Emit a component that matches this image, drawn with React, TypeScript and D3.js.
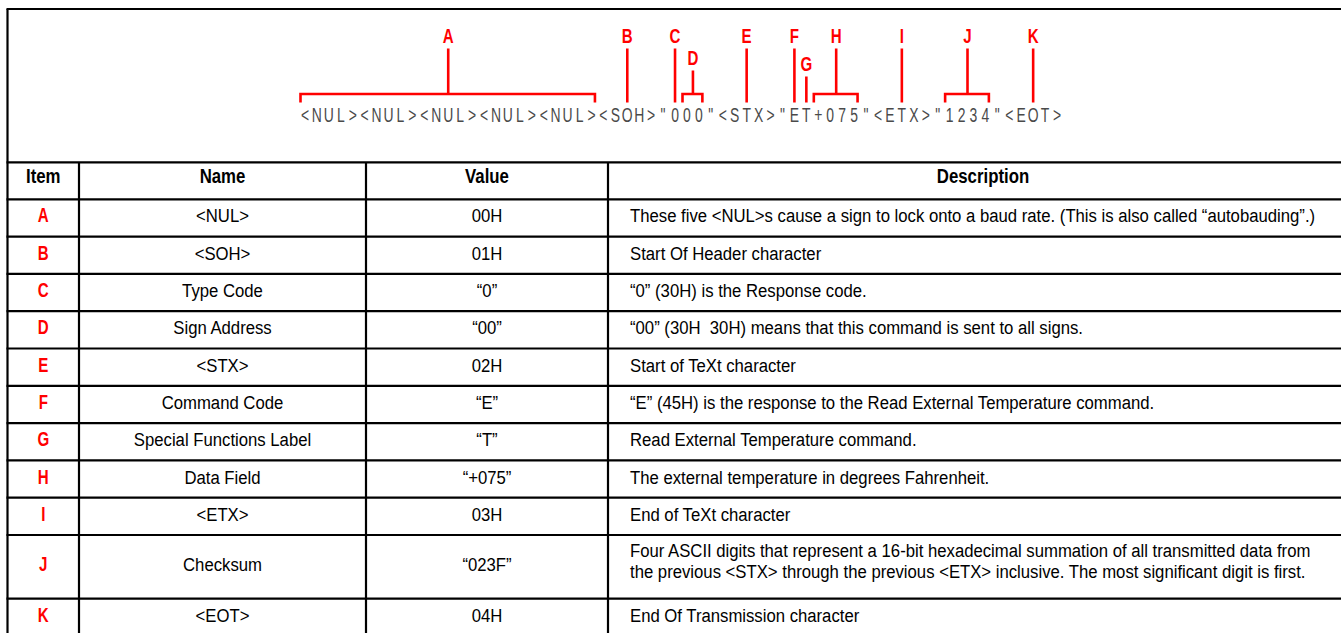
import React, { useEffect, useRef } from 'react';
import * as d3 from 'd3';

// packet shown in the diagram, one glyph per character cell
const packet = '<NUL><NUL><NUL><NUL><NUL><SOH>"000"<STX>"ET+075"<ETX>"1234"<EOT>';

// callouts: which character cells each letter points at
const markerLabels = ['A', 'B', 'C', 'D', 'E', 'F', 'G', 'H', 'I', 'J', 'K'];
const markerStart = [0, 27, 31, 32, 37, 41, 42, 43, 50, 54, 61];
const markerEnd = [25, 28, 32, 34, 38, 42, 43, 47, 51, 58, 62];
const markerTier = [0, 0, 0, 1, 0, 0, 2, 0, 0, 0, 0];

const columns = ['Item', 'Name', 'Value', 'Description'];
const items = ['A', 'B', 'C', 'D', 'E', 'F', 'G', 'H', 'I', 'J', 'K'];
const names = [
  '<NUL>', '<SOH>', 'Type Code', 'Sign Address', '<STX>', 'Command Code',
  'Special Functions Label', 'Data Field', '<ETX>', 'Checksum', '<EOT>',
];
const values = ['00H', '01H', '\u201C0\u201D', '\u201C00\u201D', '02H', '\u201CE\u201D', '\u201CT\u201D', '\u201C+075\u201D', '03H', '\u201C023F\u201D', '04H'];
const descriptions: string[][] = [
  ['These five <NUL>s cause a sign to lock onto a baud rate. (This is also called \u201Cautobauding\u201D.)'],
  ['Start Of Header character'],
  ['\u201C0\u201D (30H) is the Response code.'],
  ['\u201C00\u201D (30H\u00A0 30H) means that this command is sent to all signs.'],
  ['Start of TeXt character'],
  ['\u201CE\u201D (45H) is the response to the Read External Temperature command.'],
  ['Read External Temperature command.'],
  ['The external temperature in degrees Fahrenheit.'],
  ['End of TeXt character'],
  [
    'Four ASCII digits that represent a 16-bit hexadecimal summation of all transmitted data from',
    'the previous <STX> through the previous <ETX> inclusive. The most significant digit is first.',
  ],
  ['End Of Transmission character'],
];

const W = 1341;
const H = 633;
const RED = '#ff0000';
const SANS = '"Liberation Sans", Arial, sans-serif';
const NARROW = 0.88; // horizontal squeeze to imitate a condensed face

const App: React.FC = () => {
  const svgRef = useRef<SVGSVGElement>(null);

  useEffect(() => {
    if (!svgRef.current) return;
    const svg = d3.select(svgRef.current);
    svg.selectAll('*').remove();

    const left = 7.5;
    const right = 1358;
    const top = 9;

    const squeezed = (
      g: d3.Selection<any, unknown, null, undefined>,
      x: number, y: number, str: string,
      o: { size: number; bold?: boolean; fill?: string; anchor?: string; sx?: number },
    ) => g.append('text')
      .attr('transform', `translate(${x},${y}) scale(${o.sx ?? NARROW},1)`)
      .attr('text-anchor', o.anchor ?? 'middle')
      .style('font-family', SANS)
      .style('font-size', `${o.size}px`)
      .style('font-weight', o.bold ? '700' : '400')
      .style('fill', o.fill ?? '#000')
      .style('white-space', 'pre')
      .text(str);

    // ---- diagram ----
    const charX = d3.scaleLinear().domain([0, packet.length]).range([299, 1063]);
    const diag = svg.append('g');
    const glyphSx = 0.68;

    diag.append('text')
      .attr('transform', `translate(0,122) scale(${glyphSx},1)`)
      .attr('x', packet.split('').map((_, i) => (charX(i + 0.5) / glyphSx).toFixed(2)).join(' '))
      .attr('y', 0)
      .attr('text-anchor', 'middle')
      .style('font-family', SANS)
      .style('font-size', '20.5px')
      .style('fill', '#4a4a4a')
      .text(packet);

    const tierBase = [43, 65, 71];
    const bracketY = 94;
    const tickY = 102.5;

    markerLabels.forEach((lab, i) => {
      const s = markerStart[i];
      const e = markerEnd[i];
      const cx = charX((s + e) / 2);
      const base = tierBase[markerTier[i]];
      squeezed(diag, cx, base, lab, { size: 21, bold: true, fill: RED, sx: 0.72 });
      const lineTop = base + 5.5;
      if (e - s === 1) {
        diag.append('line')
          .attr('x1', cx).attr('x2', cx).attr('y1', lineTop).attr('y2', tickY)
          .attr('stroke', RED).attr('stroke-width', 2.6);
      } else {
        const x0 = charX(s) + 1.5;
        const x1 = charX(e) - 2.5;
        diag.append('path')
          .attr('d', `M${x0},${tickY}V${bracketY}H${x1}V${tickY}M${cx},${bracketY}V${lineTop}`)
          .attr('fill', 'none')
          .attr('stroke', RED).attr('stroke-width', 2.6);
      }
    });

    // ---- table ----
    const colEdges = [left, 79, 366, 608, right];
    const headTop = 162.3;
    const headH = 37;
    const rowH = descriptions.map(d => 37.3 + (d.length - 1) * 26.4);
    const rowTops = [headTop + headH, ...Array.from(d3.cumsum(rowH)).map(c => headTop + headH + c)];
    const hEdges = [top, headTop, ...rowTops];
    const colMid = (c: number) => (colEdges[c] + colEdges[c + 1]) / 2;

    const tbl = svg.append('g');

    hEdges.forEach(y => {
      tbl.append('line')
        .attr('x1', left - 1).attr('x2', right).attr('y1', y).attr('y2', y)
        .attr('stroke', '#000').attr('stroke-width', 2.2);
    });
    tbl.append('line')
      .attr('x1', left).attr('x2', left).attr('y1', top).attr('y2', H + 5)
      .attr('stroke', '#000').attr('stroke-width', 2.2);
    colEdges.slice(1).forEach(x => {
      tbl.append('line')
        .attr('x1', x).attr('x2', x).attr('y1', headTop).attr('y2', H + 5)
        .attr('stroke', '#000').attr('stroke-width', 2.2);
    });

    columns.forEach((c, i) => {
      squeezed(tbl, colMid(i), headTop + 21, c, { size: 21, bold: true, sx: 0.8 });
    });

    items.forEach((it, r) => {
      const y0 = rowTops[r];
      const mid = y0 + rowH[r] / 2;
      squeezed(tbl, colMid(0), mid + 4.5, it, { size: 21, bold: true, fill: RED, sx: 0.72 });
      squeezed(tbl, colMid(1), mid + 4.5, names[r], { size: 19 });
      squeezed(tbl, colMid(2), mid + 4.5, values[r], { size: 19 });
      const lines = descriptions[r];
      const lh = 20.5;
      const first = lines.length > 1 ? y0 + 22 : mid + 4.5;
      lines.forEach((ln, k) => {
        squeezed(tbl, 630, first + k * lh, ln, { size: 19, anchor: 'start' });
      });
    });
  }, []);

  return (
    <div style={{ position: 'fixed', left: 0, top: 0, width: W, height: H, overflow: 'hidden', background: '#fff' }}>
      <svg ref={svgRef} width={W} height={H} viewBox={`0 0 ${W} ${H}`} style={{ display: 'block' }} />
    </div>
  );
};

export default App;
